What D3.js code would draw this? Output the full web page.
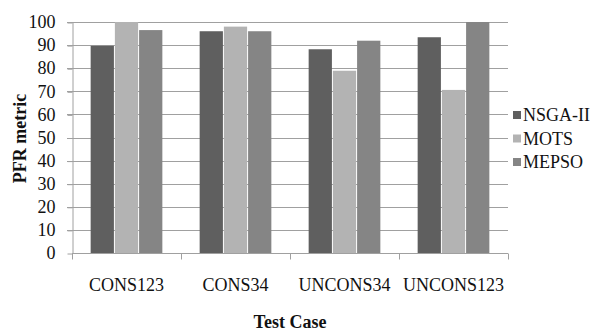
<!DOCTYPE html>
<html>
<head>
<meta charset="utf-8">
<script src="https://cdn.jsdelivr.net/npm/d3@7"></script>
<style>
  body { margin: 0; background: #fff; }
  svg, svg text { font-family: "Liberation Serif", "DejaVu Serif", serif; }
</style>
</head>
<body>
<div id="chart"></div>
<script>
let categories = ["CONS123", "CONS34", "UNCONS34", "UNCONS123"];
let seriesNames = ["NSGA-II", "MOTS", "MEPSO"];
let nsgaValues = [89.7, 96.0, 88.2, 93.4];
let motsValues = [100, 98.0, 78.9, 70.6];
let mepsoValues = [96.5, 96.0, 91.9, 100];
let yTicks = [0, 10, 20, 30, 40, 50, 60, 70, 80, 90, 100];
let colors = ["#5f5f5f", "#b3b3b3", "#858585"];

let width = 598, height = 333;
let margin = {top: 22, right: 90, bottom: 80, left: 72};
let serif = "Liberation Serif, DejaVu Serif, serif";

let seriesValues = [nsgaValues, motsValues, mepsoValues];
let data = categories.map((c, i) => ({
  name: c,
  values: seriesNames.map((s, j) => ({series: s, value: seriesValues[j][i]}))
}));

let svg = d3.select("#chart").append("svg")
  .attr("width", width)
  .attr("height", height)
  .attr("font-family", serif);

let x0 = d3.scaleBand()
  .domain(categories)
  .range([margin.left, width - margin.right]);

let x1 = d3.scaleBand()
  .domain(seriesNames)
  .range([0, x0.bandwidth()])
  .paddingInner(0.04)
  .paddingOuter(0.77);

let y = d3.scaleLinear()
  .domain([0, 100])
  .range([height - margin.bottom, margin.top]);

let color = d3.scaleOrdinal().domain(seriesNames).range(colors);

// grid lines
svg.append("g")
  .attr("class", "grid")
  .selectAll("line")
  .data(yTicks.filter(d => d > 0))
  .join("line")
  .attr("x1", margin.left - 5)
  .attr("x2", width - margin.right)
  .attr("y1", d => Math.round(y(d)) + 0.5)
  .attr("y2", d => Math.round(y(d)) + 0.5)
  .attr("stroke", "#a0a0a0")
  .attr("stroke-width", 1);

// bars
svg.append("g")
  .selectAll("g")
  .data(data)
  .join("g")
  .attr("transform", d => `translate(${x0(d.name)},0)`)
  .selectAll("rect")
  .data(d => d.values)
  .join("rect")
  .attr("x", d => x1(d.series))
  .attr("y", d => y(d.value))
  .attr("width", x1.bandwidth())
  .attr("height", d => y(0) - y(d.value))
  .attr("fill", d => color(d.series));

// y axis
svg.append("g")
  .attr("transform", `translate(${margin.left + 0.5},0)`)
  .call(d3.axisLeft(y).tickValues(yTicks).tickSize(5).tickSizeOuter(0).tickPadding(12))
  .attr("font-family", serif)
  .attr("font-size", "18px")
  .call(g => g.selectAll("line").attr("stroke", "#a0a0a0").attr("transform", "translate(0,0.5)"))
  .call(g => g.select(".domain").attr("stroke", "#a0a0a0"))
  .call(g => g.selectAll("text").attr("fill", "#111"));

// x axis with ticks at category boundaries
let xAxisG = svg.append("g")
  .attr("transform", `translate(0,${Math.round(y(0)) + 0.5})`);

xAxisG.append("line")
  .attr("x1", margin.left)
  .attr("x2", width - margin.right)
  .attr("stroke", "#a0a0a0");

let boundaries = categories.map(c => x0(c)).concat([x0(categories[categories.length - 1]) + x0.bandwidth()]);
xAxisG.selectAll(".xtick")
  .data(boundaries)
  .join("line")
  .attr("class", "xtick")
  .attr("x1", d => Math.round(d) + 0.5)
  .attr("x2", d => Math.round(d) + 0.5)
  .attr("y1", 0)
  .attr("y2", 6)
  .attr("stroke", "#a0a0a0");

xAxisG.selectAll(".xlabel")
  .data(categories)
  .join("text")
  .attr("class", "xlabel")
  .attr("x", d => x0(d) + x0.bandwidth() / 2)
  .attr("y", 37)
  .attr("text-anchor", "middle")
  .attr("font-family", serif)
  .attr("font-size", "18px")
  .attr("fill", "#111")
  .text(d => d);

// axis titles
svg.append("text")
  .attr("x", (margin.left + width - margin.right) / 2)
  .attr("y", 328)
  .attr("text-anchor", "middle")
  .attr("font-family", serif)
  .attr("font-size", "18px")
  .attr("font-weight", "bold")
  .attr("fill", "#111")
  .text("Test Case");

svg.append("text")
  .attr("transform", `translate(26,${(margin.top + height - margin.bottom) / 2 + 1}) rotate(-90)`)
  .attr("text-anchor", "middle")
  .attr("font-family", serif)
  .attr("font-size", "18px")
  .attr("font-weight", "bold")
  .attr("fill", "#111")
  .text("PFR metric");

// legend
let legend = svg.append("g")
  .selectAll("g")
  .data(seriesNames)
  .join("g")
  .attr("transform", (d, i) => `translate(513,${115 + i * 23.5})`);

legend.append("rect")
  .attr("x", 0)
  .attr("y", -4)
  .attr("width", 8)
  .attr("height", 8)
  .attr("fill", d => color(d));

legend.append("text")
  .attr("x", 10)
  .attr("y", 6)
  .attr("font-family", serif)
  .attr("font-size", "18px")
  .attr("fill", "#111")
  .text(d => d);
</script>
</body>
</html>
